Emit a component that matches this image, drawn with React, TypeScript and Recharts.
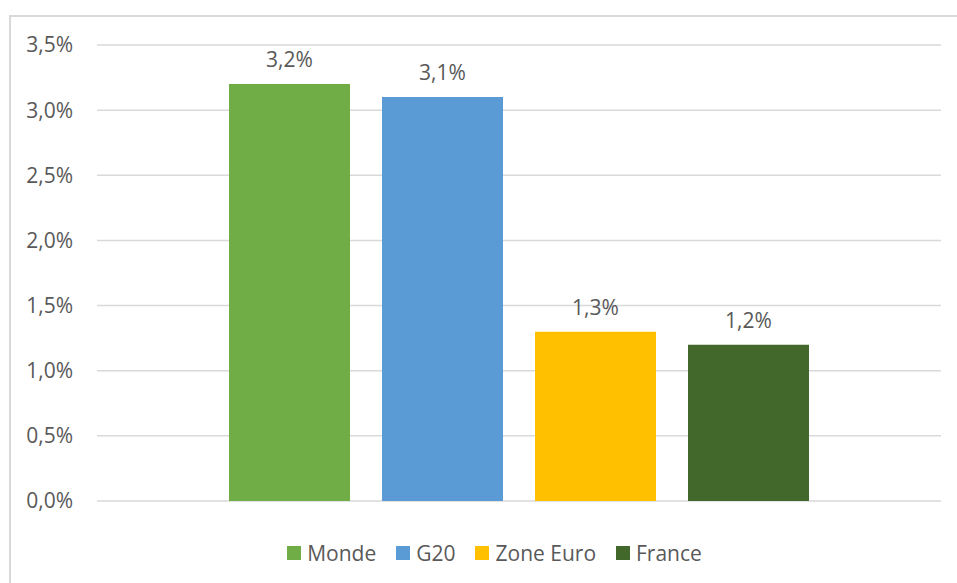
import React from "react";
import {
  Bar,
  BarChart,
  CartesianGrid,
  LabelList,
  Legend,
  XAxis,
  YAxis,
} from "recharts";

const seriesNames = ["Monde", "G20", "Zone Euro", "France"];
const seriesValues = [3.2, 3.1, 1.3, 1.2];
const seriesColors = ["#70ad47", "#5b9bd5", "#ffc000", "#43682b"];
const yTicks = [0, 0.5, 1, 1.5, 2, 2.5, 3, 3.5];

const chartData = [
  seriesNames.reduce(
    (row, name, i) => ({ ...row, [name]: seriesValues[i] }),
    { name: "" } as Record<string, string | number>
  ),
];

const FONT = "'Open Sans', 'Noto Sans', sans-serif";
const TEXT = "#595959";

const fmt = (v: number) => `${Number(v).toFixed(1).replace(".", ",")}%`;

function LegendContent() {
  return (
    <div
      style={{
        display: "flex",
        justifyContent: "center",
        alignItems: "center",
        height: 24,
        paddingLeft: 48,
        fontFamily: FONT,
        fontSize: 21,
        color: TEXT,
      }}
    >
      {seriesNames.map((name, i) => (
        <div
          key={name}
          style={{ display: "flex", alignItems: "center", margin: "0 10px" }}
        >
          <span
            style={{
              width: 14,
              height: 14,
              background: seriesColors[i],
              marginRight: 6,
              display: "inline-block",
            }}
          />
          <span>{name}</span>
        </div>
      ))}
    </div>
  );
}

export default function App() {
  return (
    <div
      style={{
        position: "fixed",
        left: 0,
        top: 0,
        width: 957,
        height: 583,
        overflow: "hidden",
        background: "#fff",
      }}
    >
      <div
        style={{
          position: "absolute",
          left: 9,
          top: 15,
          width: 1000,
          height: 620,
          border: "2px solid #d9d9d9",
          boxSizing: "border-box",
        }}
      />
      <div style={{ position: "absolute", left: 0, top: 0 }}>
        <BarChart
          width={988}
          height={583}
          data={chartData}
          margin={{ top: 45, right: 47, left: 0, bottom: 18 }}
          barCategoryGap={132}
          barGap={32}
        >
          <CartesianGrid
            vertical={false}
            stroke="#d9d9d9"
            strokeWidth={1.5}
          />
          <XAxis
            dataKey="name"
            tick={false}
            tickLine={false}
            axisLine={false}
            height={40}
          />
          <YAxis
            width={97}
            domain={[0, 3.5]}
            ticks={yTicks}
            tickFormatter={fmt}
            axisLine={false}
            tickLine={false}
            tickSize={0}
            tickMargin={24}
            tick={{ fill: TEXT, fontSize: 21, fontFamily: FONT }}
          />
          <Legend verticalAlign="bottom" content={<LegendContent />} />
          {seriesNames.map((name, i) => (
            <Bar
              key={name}
              dataKey={name}
              fill={seriesColors[i]}
              isAnimationActive={false}
            >
              <LabelList
                dataKey={name}
                position="top"
                offset={17}
                formatter={(v: number) => fmt(v)}
                style={{ fill: TEXT, fontSize: 21, fontFamily: FONT }}
              />
            </Bar>
          ))}
        </BarChart>
      </div>
    </div>
  );
}
